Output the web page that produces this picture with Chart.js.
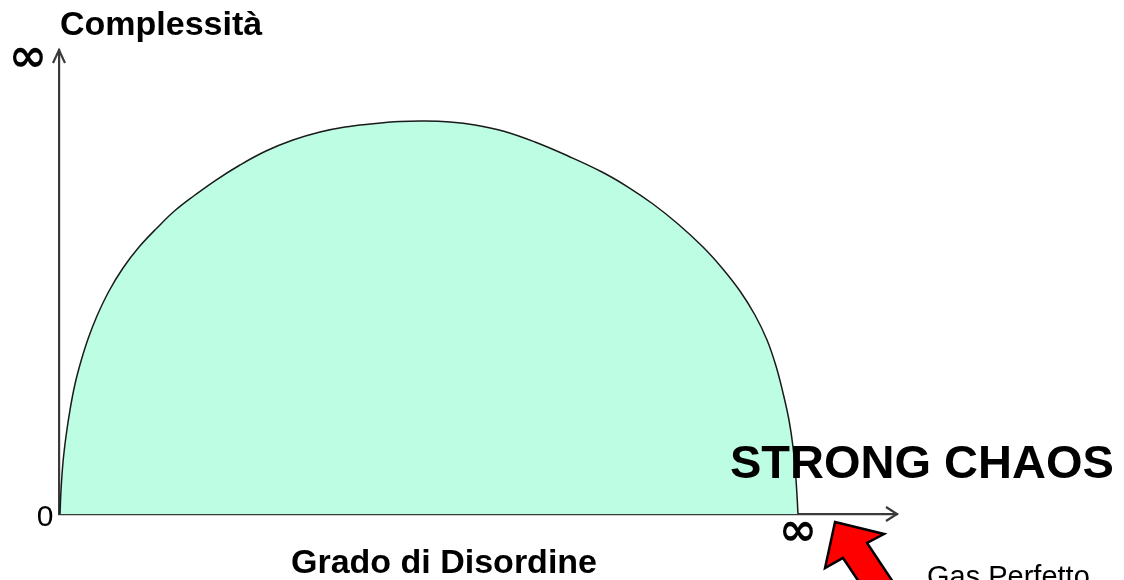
<!DOCTYPE html>
<html>
<head>
<meta charset="utf-8">
<script src="https://cdn.jsdelivr.net/npm/chart.js@4"></script>
<style>
  html, body { margin: 0; padding: 0; background: #fff; }
  #wrap { width: 1124px; height: 580px; position: relative; }
</style>
</head>
<body>
<div id="wrap"><canvas id="chaosChart"></canvas></div>
<script>
// punti (x = grado di disordine, y = complessità), scala 0-100
const disorder = [
    0.12, 0.24, 0.48, 0.84, 1.31, 1.91, 2.63, 3.46, 4.53, 5.97, 7.64, 9.55, 11.69, 13.84, 16.23, 18.74,
    21.60, 24.70, 27.92, 31.15, 34.13, 37.11, 40.69, 43.68, 46.66, 49.64, 52.98, 56.80, 60.74, 64.80,
    67.90, 70.88, 73.87, 76.85, 79.12, 81.26, 83.05, 84.49, 85.56, 86.40, 87.11, 87.59, 87.95, 88.19
];
const complexity = [
    0, 5.17, 11.21, 16.81, 22.41, 28.02, 32.97, 37.72, 42.67, 48.06, 53.02, 57.54, 61.64, 65.40, 68.75, 71.98,
    75.22, 78.23, 80.60, 82.33, 83.41, 84.05, 84.59, 84.70, 84.48, 83.84, 82.54, 80.17, 77.16, 73.71,
    70.47, 66.81, 62.50, 57.54, 53.02, 48.06, 42.89, 37.50, 31.90, 26.08, 20.26, 14.44, 7.33, 0
];

// etichette degli assi: valore -> testo
const yTickValues = [0, 100];
const yTickLabels = ['0', '∞'];
const xTickValues = [88.19];
const xTickLabels = ['∞'];

const yTitle = 'Complessità';
const xTitle = 'Grado di Disordine';
const bigLabel = 'STRONG CHAOS';
const noteLabel = 'Gas Perfetto';

Chart.defaults.font.family = '"Liberation Sans", Arial, sans-serif';
Chart.defaults.color = '#000';

const axisColor = '#3a3a3a';

// disegna frecce, etichette e testi
const decorPlugin = {
    id: 'decor',
    afterDraw(chart) {
        const { ctx, chartArea: a, scales: { x, y } } = chart;
        ctx.save();

        // punte delle frecce degli assi
        ctx.strokeStyle = axisColor;
        ctx.lineWidth = 2.2;
        ctx.lineJoin = 'miter';
        ctx.beginPath();
        ctx.moveTo(a.right - 11, a.bottom - 7);
        ctx.lineTo(a.right, a.bottom);
        ctx.lineTo(a.right - 11, a.bottom + 7);
        ctx.stroke();
        ctx.beginPath();
        ctx.moveTo(a.left - 6, a.top + 13);
        ctx.lineTo(a.left, a.top);
        ctx.lineTo(a.left + 6, a.top + 13);
        ctx.stroke();

        // tick labels
        ctx.fillStyle = '#000';
        ctx.textAlign = 'center';
        ctx.textBaseline = 'middle';
        ctx.font = '30px "Liberation Sans", Arial, sans-serif';
        ctx.fillText(yTickLabels[0], x.getPixelForValue(0) - 14, y.getPixelForValue(yTickValues[0]) + 4);
        ctx.font = 'bold 46px "DejaVu Sans", sans-serif';
        ctx.fillText(yTickLabels[1], a.left - 31, y.getPixelForValue(yTickValues[1]) + 9);
        ctx.fillText(xTickLabels[0], x.getPixelForValue(xTickValues[0]), a.bottom + 19);

        // titoli
        ctx.textBaseline = 'alphabetic';
        ctx.textAlign = 'left';
        ctx.font = 'bold 34px "Liberation Sans", Arial, sans-serif';
        ctx.fillText(yTitle, a.left + 1, 35);
        ctx.textAlign = 'center';
        ctx.font = 'bold 34px "Liberation Sans", Arial, sans-serif';
        ctx.fillText(xTitle, 444, 573);
        ctx.textAlign = 'left';
        ctx.font = 'bold 47px "Liberation Sans", Arial, sans-serif';
        ctx.fillText(bigLabel, 730, 478);
        ctx.font = '29px "Liberation Sans", Arial, sans-serif';
        ctx.fillText(noteLabel, 927, 586);

        // freccia rossa verso l'asse
        const tx = x.getPixelForValue(xTickValues[0]) + 37;
        const ty = a.bottom + 8;
        ctx.beginPath();
        ctx.moveTo(tx, ty);
        ctx.lineTo(tx + 49, ty + 12);
        ctx.lineTo(tx + 32, ty + 21);
        ctx.lineTo(tx + 70, ty + 78);
        ctx.lineTo(tx + 36, ty + 78);
        ctx.lineTo(tx + 8, ty + 36);
        ctx.lineTo(tx - 10, ty + 46);
        ctx.closePath();
        ctx.fillStyle = '#ff0000';
        ctx.fill();
        ctx.strokeStyle = '#000';
        ctx.lineWidth = 2.5;
        ctx.stroke();

        ctx.restore();
    }
};

const ctx = document.getElementById('chaosChart').getContext('2d');
new Chart(ctx, {
    type: 'line',
    data: {
        datasets: [{
            data: disorder.map((d, i) => ({ x: d, y: complexity[i] })),
            borderColor: '#1a1a1a',
            borderWidth: 1.5,
            backgroundColor: '#bdfde4',
            fill: 'origin',
            tension: 0.4,
            pointRadius: 0,
            clip: false
        }]
    },
    options: {
        responsive: true,
        maintainAspectRatio: false,
        animation: false,
        layout: { padding: { left: 59, right: 227, top: 50, bottom: 66 } },
        plugins: {
            legend: { display: false },
            tooltip: { enabled: false }
        },
        scales: {
            x: {
                type: 'linear',
                min: 0,
                max: 100,
                z: 1,
                grid: { display: false, drawTicks: false },
                ticks: { display: false },
                border: { display: true, color: axisColor, width: 2.2 }
            },
            y: {
                min: 0,
                max: 100,
                z: 1,
                grid: { display: false, drawTicks: false },
                ticks: { display: false },
                border: { display: true, color: axisColor, width: 2.2 }
            }
        }
    },
    plugins: [decorPlugin]
});
</script>
</body>
</html>
